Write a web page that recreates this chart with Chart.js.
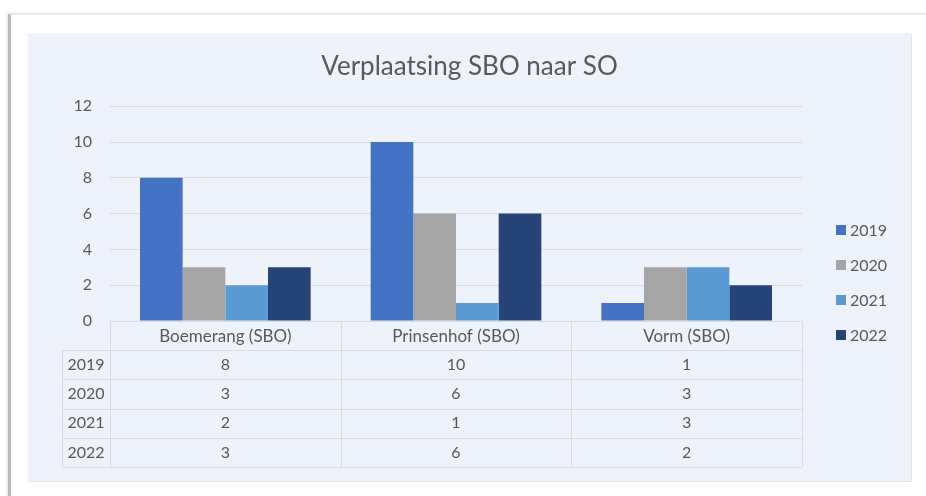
<!DOCTYPE html>
<html>
<head>
<meta charset="utf-8">
<script src="https://cdn.jsdelivr.net/npm/chart.js@4.4.1/dist/chart.umd.min.js"></script>
<style>
  html, body { margin:0; padding:0; background:#fff; width:926px; height:496px; overflow:hidden; }
  .frame { position:absolute; left:8px; top:14px; width:940px; height:500px;
           border-left:3px solid #b9b9b9; border-top:1px solid #e6e6e6;
           box-shadow:-1px -1px 3px rgba(0,0,0,.12); background:#fff; }
  .panel { position:absolute; left:28px; top:33px; width:883px; height:448px;
           background:#eef2fa; box-shadow:1px 1px 0 #e2e5ea; }
  canvas { display:block; }
</style>
</head>
<body>
<div class="frame"></div>
<div class="panel"><canvas id="chart" width="883" height="448"></canvas></div>
<script>
const categories = ['Boemerang (SBO)', 'Prinsenhof (SBO)', 'Vorm (SBO)'];
const years = ['2019', '2020', '2021', '2022'];
const values2019 = [8, 10, 1];
const values2020 = [3, 6, 3];
const values2021 = [2, 1, 3];
const values2022 = [3, 6, 2];
const yTicks = [0, 2, 4, 6, 8, 10, 12];
const colors = ['#4472c4', '#a5a5a5', '#5b9bd5', '#264478'];

const FONT = 'Lato, "Noto Sans", sans-serif';
const TEXT = '#595959';
const LINE = '#d9dce2';

const series = [values2019, values2020, values2021, values2022];

// data table under the plot + legend on the right
const tablePlugin = {
  id: 'dataTable',
  afterDraw(chart){
    const ctx = chart.ctx;
    const xs = chart.scales.x;
    const area = chart.chartArea;
    const top = area.bottom;
    const bottom = xs.bottom;
    const headH = 29;
    const rowH = (bottom - top - headH) / years.length;
    const colW = xs.width / categories.length;
    const yearLeft = xs.left - 48;

    ctx.save();
    ctx.strokeStyle = LINE;
    ctx.lineWidth = 1;
    ctx.beginPath();
    // vertical lines
    for(let i=0;i<=categories.length;i++){
      const x = Math.round(xs.left + i*colW) + 0.5;
      ctx.moveTo(x, top); ctx.lineTo(x, bottom);
    }
    ctx.moveTo(yearLeft + 0.5, top + headH); ctx.lineTo(yearLeft + 0.5, bottom);
    // horizontal lines
    for(let r=0;r<=years.length;r++){
      const y = Math.round(top + headH + r*rowH) + 0.5;
      ctx.moveTo(yearLeft, y); ctx.lineTo(xs.right, y);
    }
    ctx.stroke();

    ctx.fillStyle = TEXT;
    ctx.font = '16px ' + FONT;
    ctx.textAlign = 'center';
    ctx.textBaseline = 'middle';
    years.forEach((yr, r)=>{
      const cy = top + headH + r*rowH + rowH/2;
      ctx.fillText(yr, (yearLeft + xs.left)/2, cy);
      series[r].forEach((v, i)=>{
        ctx.fillText(String(v), xs.getPixelForValue(i), cy);
      });
    });

    // legend
    ctx.textAlign = 'left';
    chart.data.datasets.forEach((ds, i)=>{
      const lx = area.right + 34;
      const ly = 197 + i*35;
      ctx.fillStyle = ds.backgroundColor;
      ctx.fillRect(lx, ly - 5, 10, 10);
      ctx.fillStyle = TEXT;
      ctx.fillText(ds.label, lx + 14, ly + 1);
    });
    ctx.restore();
  }
};

new Chart(document.getElementById('chart'), {
  type: 'bar',
  data: {
    labels: categories,
    datasets: years.map((yr, i)=>({
      label: yr,
      data: series[i],
      backgroundColor: colors[i],
      categoryPercentage: 0.74,
      barPercentage: 1.0
    }))
  },
  options: {
    responsive: false,
    animation: false,
    layout: { padding: { left: 0, right: 0, top: 0, bottom: 14 } },
    scales: {
      x: {
        grid: { display: false },
        border: { display: true, color: LINE },
        ticks: { color: TEXT, font: { family: FONT, size: 17 }, padding: -3, maxRotation: 0 },
        afterFit: (s)=>{ s.height = 146; }
      },
      y: {
        min: 0, max: 12,
        afterBuildTicks: (s)=>{ s.ticks = yTicks.map(v=>({ value: v })); },
        grid: { color: LINE, drawTicks: false },
        border: { display: false },
        ticks: { color: TEXT, font: { family: FONT, size: 16 }, padding: 18 },
        afterFit: (s)=>{ s.width = 82; }
      },
      // empty right-hand axis that only reserves room for the legend
      yRight: {
        position: 'right',
        grid: { display: false },
        border: { display: false },
        ticks: { display: false },
        afterFit: (s)=>{ s.width = 109; }
      }
    },
    plugins: {
      legend: { display: false },
      tooltip: { enabled: false },
      title: {
        display: true,
        text: 'Verplaatsing SBO naar SO',
        color: TEXT,
        font: { family: FONT, size: 26, weight: 'normal' },
        padding: { top: 18, bottom: 24 }
      }
    }
  },
  plugins: [tablePlugin]
});
</script>
</body>
</html>
